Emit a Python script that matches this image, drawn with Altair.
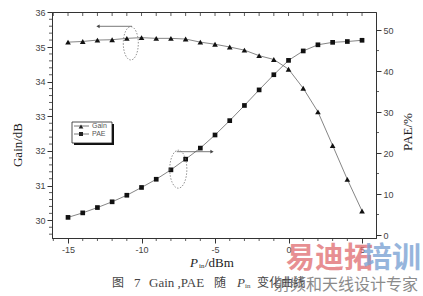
import altair as alt
import pandas as pd

# ---- data ----
pin = [-15, -14, -13, -12, -11, -10, -9, -8, -7, -6, -5, -4, -3, -2, -1, 0, 1, 2, 3, 4, 5]
gain = [35.14, 35.16, 35.20, 35.21, 35.25, 35.27, 35.25, 35.25, 35.23, 35.14, 35.08,
        35.00, 34.91, 34.75, 34.64, 34.36, 33.81, 33.13, 32.16, 31.18, 30.27]
pae = [4.3, 5.4, 6.7, 8.1, 9.7, 11.6, 13.6, 15.9, 18.5, 21.2, 24.4,
       27.9, 31.6, 35.4, 39.1, 42.6, 44.9, 46.4, 47.0, 47.2, 47.5]

x_major = [-15, -10, -5, 0, 5]
x_minor = [-16, -14, -13, -12, -11, -9, -8, -7, -6, -4, -3, -2, -1, 1, 2, 3, 4]
x_top = [-16, -15, -14, -13, -12, -11, -10, -9, -8, -7, -6, -5, -4, -3, -2, -1, 0, 1, 2, 3, 4, 5]
gain_major = [30, 31, 32, 33, 34, 35, 36]
gain_minor = [29.6, 29.8, 30.2, 30.4, 30.6, 30.8, 31.2, 31.4, 31.6, 31.8, 32.2, 32.4, 32.6, 32.8,
              33.2, 33.4, 33.6, 33.8, 34.2, 34.4, 34.6, 34.8, 35.2, 35.4, 35.6, 35.8]
pae_major = [0, 10, 20, 30, 40, 50]
pae_minor = [5, 15, 25, 35, 45]

df = pd.DataFrame({"pin": pin, "gain": gain, "pae": pae})

W, H = 324, 226
AX = "#333333"
LBL = "#444444"
SANS = "Liberation Sans"
SERIF = "Liberation Serif"
CJK = "Noto Sans CJK SC"

xs = alt.Scale(domain=[-16.09, 5.95], nice=False, zero=False)
gs = alt.Scale(domain=[29.49, 36.01], nice=False, zero=False)
ps = alt.Scale(domain=[-0.73, 54.4], nice=False, zero=False)

x_axis = alt.Axis(values=x_major, title=None, grid=False, tickSize=5, tickColor=AX,
                  domainColor=AX, labelFont=SANS, labelFontSize=9, labelColor=LBL,
                  labelPadding=2, labelExpr="toString(datum.value)")
g_axis = alt.Axis(values=gain_major, orient="left", title=None, grid=False, tickSize=5,
                  tickColor=AX, domainColor=AX, labelFont=SANS, labelFontSize=9,
                  labelColor=LBL, labelPadding=2, format="d")
p_axis = alt.Axis(values=pae_major, orient="right", title=None, grid=False, tickSize=5,
                  tickColor=AX, domainColor=AX, labelFont=SANS, labelFontSize=9,
                  labelColor=LBL, labelPadding=2, format="d")

X = alt.X("pin:Q", scale=xs, axis=x_axis)

gain_line = alt.Chart(df).mark_line(color="#666666", strokeWidth=0.8).encode(
    x=X, y=alt.Y("gain:Q", scale=gs, axis=g_axis))
gain_pts = alt.Chart(df).mark_point(shape="triangle-up", filled=True, color="#111111",
                                    size=32, opacity=1).encode(
    x=X, y=alt.Y("gain:Q", scale=gs, axis=g_axis))
gain_minor_ticks = alt.Chart(pd.DataFrame({"v": gain_minor})).mark_rule(
    color=AX, strokeWidth=0.8).encode(
    y=alt.Y("v:Q", scale=gs, axis=g_axis), x=alt.value(-3), x2=alt.value(0))
gain_layer = alt.layer(gain_line, gain_pts, gain_minor_ticks)

pae_line = alt.Chart(df).mark_line(color="#666666", strokeWidth=0.8).encode(
    x=X, y=alt.Y("pae:Q", scale=ps, axis=p_axis))
pae_pts = alt.Chart(df).mark_point(shape="square", filled=True, color="#111111",
                                   size=22, opacity=1).encode(
    x=X, y=alt.Y("pae:Q", scale=ps, axis=p_axis))
pae_minor_ticks = alt.Chart(pd.DataFrame({"v": pae_minor})).mark_rule(
    color=AX, strokeWidth=0.8).encode(
    y=alt.Y("v:Q", scale=ps, axis=p_axis), x=alt.value(W), x2=alt.value(W + 3))
pae_layer = alt.layer(pae_line, pae_pts, pae_minor_ticks)

bottom_minor = alt.Chart(pd.DataFrame({"pin": x_minor})).mark_rule(
    color=AX, strokeWidth=0.8).encode(
    x=X, y=alt.value(H), y2=alt.value(H + 3))
top_ticks = alt.Chart(pd.DataFrame({"pin": x_top})).mark_rule(
    color=AX, strokeWidth=0.8).encode(
    x=X, y=alt.value(0), y2=alt.value(4))

one = pd.DataFrame({"a": [0]})


def txt(s, x, y, size=12, font=SERIF, color="#222222", align="left", angle=0,
        style="normal", weight="normal", opacity=1.0):
    return alt.Chart(one).mark_text(text=s, font=font, fontSize=size, color=color,
                                    align=align, baseline="middle", angle=angle,
                                    fontStyle=style, fontWeight=weight,
                                    opacity=opacity).encode(
        x=alt.value(x), y=alt.value(y))


def rule(x1, y1, x2, y2, color="#333333", width=0.8, dash=None):
    kw = dict(color=color, strokeWidth=width)
    if dash:
        kw["strokeDash"] = dash
    return alt.Chart(one).mark_rule(**kw).encode(
        x=alt.value(x1), y=alt.value(y1), x2=alt.value(x2), y2=alt.value(y2))


def pt(x, y, shape, size, filled=True, color="#222222", dash=None, sw=0.8):
    kw = dict(shape=shape, size=size, filled=filled, color=color, opacity=1,
              strokeWidth=sw)
    if dash:
        kw["strokeDash"] = dash
    return alt.Chart(one).mark_point(**kw).encode(x=alt.value(x), y=alt.value(y))


def rect(x1, y1, x2, y2, fill, stroke=None):
    kw = dict(color=fill)
    if stroke:
        kw["stroke"] = stroke
        kw["strokeWidth"] = 0.8
    return alt.Chart(one).mark_rect(**kw).encode(
        x=alt.value(x1), y=alt.value(y1), x2=alt.value(x2), y2=alt.value(y2))


ellipse = "M -0.45 0 A 0.45 1 0 1 0 0.45 0 A 0.45 1 0 1 0 -0.45 0 Z"

annot = [
    # legend
    rect(22, 112, 62, 133, "#111111"),
    rect(20, 110, 60, 131, "#ffffff", "#222222"),
    rule(22, 114, 37, 114, "#555555"),
    pt(29, 114.5, "triangle-up", 22),
    txt("Gain", 40, 114, size=7, font=SANS, color="#555555"),
    rule(22, 122, 37, 122, "#555555"),
    pt(29, 122, "square", 16),
    txt("PAE", 40, 122, size=7, font=SANS, color="#555555"),
    # annotation arrows and dotted ellipses
    rule(47, 14.3, 80, 14.3, "#555555"),
    pt(46, 14.3, "triangle-left", 14, color="#444444"),
    pt(78.8, 31.3, ellipse, 1115, filled=False, color="#777777", dash=[1.5, 1.5]),
    rule(124.7, 139.7, 159, 139.7, "#555555"),
    pt(160, 139.7, "triangle-right", 14, color="#444444"),
    pt(126.3, 157.2, ellipse, 1444, filled=False, color="#777777", dash=[1.5, 1.5]),
    # axis titles
    txt("Gain/dB", -34, 133, size=13, angle=270, align="center"),
    txt("PAE/%", 356, 120, size=13, angle=270, align="center"),
    txt("P", 138, 251, size=13, style="italic"),
    txt("in", 147, 254, size=7),
    txt("/dBm", 153, 251, size=13),
    # caption
    txt("图", 60, 271, size=12, font=CJK, color="#444444"),
    txt("7", 82, 271, size=13, color="#444444"),
    txt("Gain ,PAE", 97, 271, size=13, color="#444444"),
    txt("随", 162, 271, size=12, font=CJK, color="#444444"),
    txt("P", 185, 271, size=13, style="italic", color="#444444"),
    txt("in", 193, 274, size=7, color="#444444"),
    txt("变化曲线", 205, 271, size=12, font=CJK, color="#444444"),
    # watermark
    txt("射频和天线设计专家", 222, 273, size=16, font=CJK, color="#777777", opacity=0.85),
    txt("易迪拓", 234, 247, size=29, font=CJK, color="#e06a6e", weight="bold", opacity=0.75),
    txt("培训", 311, 247, size=29, font=CJK, color="#7da3d4", weight="bold", opacity=0.8),
]

chart = alt.layer(gain_layer, pae_layer, bottom_minor, top_ticks, *annot).resolve_scale(
    y="independent"
).properties(
    width=W, height=H,
    background="white",
    autosize=alt.AutoSizeParams(type="none"),
    padding={"left": 52, "top": 12, "right": 423 - 52 - W, "bottom": 296 - 12 - H},
).configure_view(stroke=AX, strokeWidth=1)

chart.save("out.html", embed_options={"renderer": "svg", "actions": False})
